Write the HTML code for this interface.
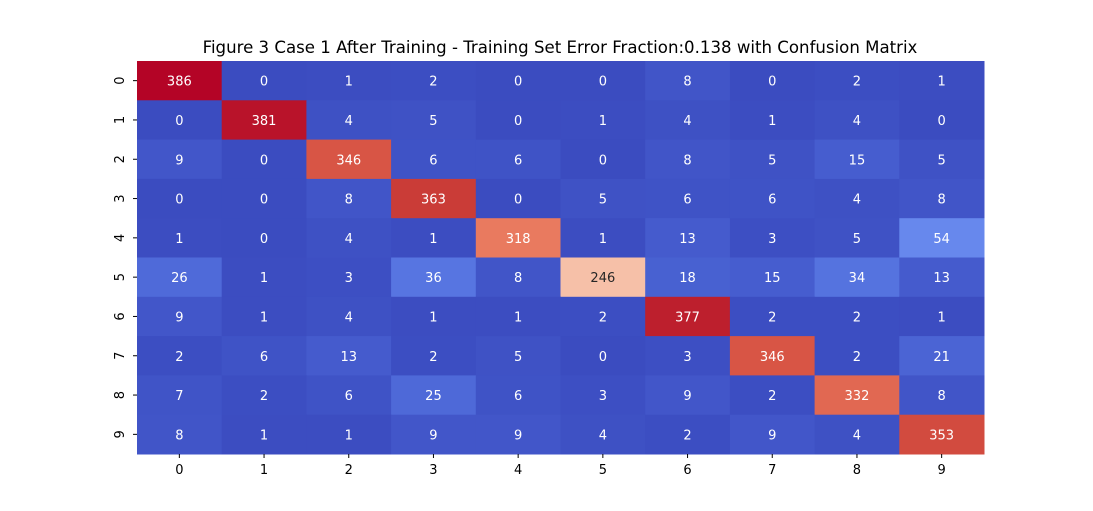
<!DOCTYPE html>
<html><head><meta charset="utf-8"><style>
html,body{margin:0;padding:0;background:#fff;}
svg{display:block;font-family:"DejaVu Sans","Liberation Sans",sans-serif;}
</style></head><body>
<svg id="chart" width="1093" height="511">
<text x="560" y="53" text-anchor="middle" font-size="16.6" fill="#000">Figure 3 Case 1 After Training - Training Set Error Fraction:0.138 with Confusion Matrix</text>
<g id="cells"></g>
<g id="xaxis"></g>
<g id="yaxis"></g>
</svg>
<script>
const xLabels = ["0","1","2","3","4","5","6","7","8","9"];
const yLabels = ["0","1","2","3","4","5","6","7","8","9"];
const row0 = [386,0,1,2,0,0,8,0,2,1];
const row1 = [0,381,4,5,0,1,4,1,4,0];
const row2 = [9,0,346,6,6,0,8,5,15,5];
const row3 = [0,0,8,363,0,5,6,6,4,8];
const row4 = [1,0,4,1,318,1,13,3,5,54];
const row5 = [26,1,3,36,8,246,18,15,34,13];
const row6 = [9,1,4,1,1,2,377,2,2,1];
const row7 = [2,6,13,2,5,0,3,346,2,21];
const row8 = [7,2,6,25,6,3,9,2,332,8];
const row9 = [8,1,1,9,9,4,2,9,4,353];
const matrix = [row0,row1,row2,row3,row4,row5,row6,row7,row8,row9];

const X0=137, X1=984, Y0=61, Y1=454;
const vmin=0, vmax=Math.max(...matrix.flat());
const cw=(X1-X0)/xLabels.length, ch=(Y1-Y0)/yLabels.length;
const xPos=i=>X0+i*cw, yPos=j=>Y0+j*ch;
const cmap=[[59,76,192],[68,90,204],[77,104,215],[87,117,225],[98,130,234],[108,142,241],[119,154,247],[130,165,251],[141,176,254],[152,185,255],[163,194,255],[174,201,253],[184,208,249],[194,213,244],[204,217,238],[213,219,230],[221,221,221],[229,216,209],[236,211,197],[241,204,185],[245,196,173],[247,187,160],[247,177,148],[247,166,135],[244,154,123],[241,141,111],[236,127,99],[229,112,88],[222,96,77],[213,80,66],[203,62,56],[192,40,47],[180,4,38]];
function color(v){
  let t=(v-vmin)/(vmax-vmin); t=Math.max(0,Math.min(1,t));
  const p=t*(cmap.length-1), i=Math.min(Math.floor(p),cmap.length-2), f=p-i;
  return cmap[i].map((c,k)=>Math.round(c+(cmap[i+1][k]-c)*f));
}
function lum(c){const l=c.map(x=>{x/=255;return x<=0.03928?x/12.92:Math.pow((x+0.055)/1.055,2.4)});return 0.2126*l[0]+0.7152*l[1]+0.0722*l[2];}
const NS="http://www.w3.org/2000/svg";
const cells=document.getElementById('cells');
matrix.forEach((row,j)=>row.forEach((v,i)=>{
  const c=color(v);
  const r=document.createElementNS(NS,'rect');
  r.setAttribute('x',xPos(i));r.setAttribute('y',yPos(j));
  r.setAttribute('width',cw+0.5);r.setAttribute('height',ch+0.5);
  r.setAttribute('fill',`rgb(${c.join(',')})`);
  
  
  cells.appendChild(r);
  const t=document.createElementNS(NS,'text');
  t.setAttribute('x',xPos(i)+cw/2);t.setAttribute('y',yPos(j)+ch/2+5);
  t.setAttribute('text-anchor','middle');t.setAttribute('font-size','13');
  t.setAttribute('fill',lum(c)>0.408?'#262626':'#fff');
  t.textContent=v;
  
  
  cells.appendChild(t);
}));
const xa=document.getElementById('xaxis');
xLabels.forEach((l,i)=>{
  const x=xPos(i)+cw/2;
  const tk=document.createElementNS(NS,'line');
  tk.setAttribute('x1',x);tk.setAttribute('x2',x);tk.setAttribute('y1',Y1);tk.setAttribute('y2',Y1+4);tk.setAttribute('stroke','#000');
  
  
  xa.appendChild(tk);
  const t=document.createElementNS(NS,'text');
  t.setAttribute('x',x);t.setAttribute('y',Y1+20);t.setAttribute('text-anchor','middle');t.setAttribute('font-size','13');
  t.textContent=l;
  
  
  xa.appendChild(t);
});
const ya=document.getElementById('yaxis');
yLabels.forEach((l,j)=>{
  const y=yPos(j)+ch/2;
  const tk=document.createElementNS(NS,'line');
  tk.setAttribute('x1',X0-4);tk.setAttribute('x2',X0);tk.setAttribute('y1',y);tk.setAttribute('y2',y);tk.setAttribute('stroke','#000');
  
  
  ya.appendChild(tk);
  const t=document.createElementNS(NS,'text');
  t.setAttribute('transform',`translate(${X0-13},${y}) rotate(-90)`);
  t.setAttribute('text-anchor','middle');t.setAttribute('font-size','13');
  t.textContent=l;
  
  
  ya.appendChild(t);
});
</script>
</body></html>
